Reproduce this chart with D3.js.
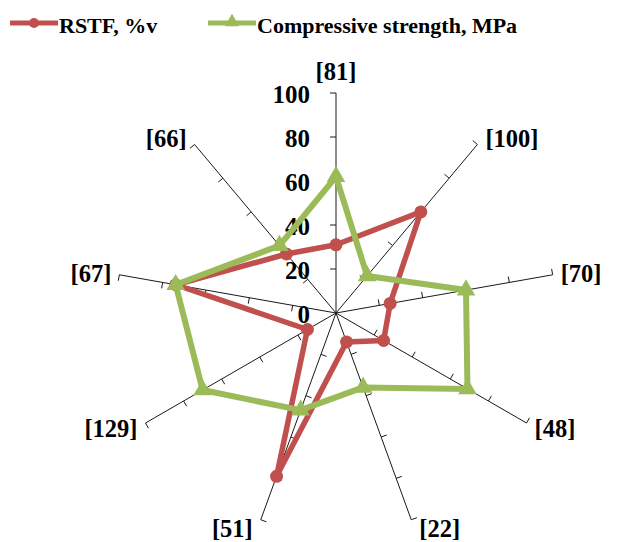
<!DOCTYPE html>
<html>
<head>
<meta charset="utf-8">
<script src="https://cdn.jsdelivr.net/npm/d3@7/dist/d3.min.js"></script>
<style>
  html, body { margin: 0; padding: 0; background: #fff; }
  svg text { font-family: "Liberation Serif", "Times New Roman", serif; font-weight: bold; fill: #000; }
</style>
</head>
<body>
<svg id="chart" width="626" height="542"></svg>
<script>
// ---- data ----
const categories = ["[81]", "[100]", "[70]", "[48]", "[22]", "[51]", "[129]", "[67]", "[66]"];
const rstf = [31, 60, 25, 25, 14, 79, 15, 74, 35];
const compressive = [62, 22, 60, 69, 36, 47, 70, 74, 40];
const tickValues = [0, 20, 40, 60, 80, 100];
const seriesNames = ["RSTF, %v", "Compressive strength, MPa"];
const seriesColors = ["#C0504D", "#9BBB59"];

// ---- layout ----
const cx = 336, cy = 313, R = 220;
const svg = d3.select("#chart");
const r = d3.scaleLinear().domain([0, 100]).range([0, R]);
const angle = d3.scalePoint().domain(categories).range([0, 360 * (categories.length - 1) / categories.length]);
const rad = d => angle(d) * Math.PI / 180;
const pt = (cat, v) => [cx + Math.sin(rad(cat)) * r(v), cy - Math.cos(rad(cat)) * r(v)];

const g = svg.append("g");

// spokes + ticks
categories.forEach(c => {
  const a = rad(c);
  const [ex, ey] = pt(c, 100);
  g.append("line").attr("x1", cx).attr("y1", cy).attr("x2", ex).attr("y2", ey)
    .attr("stroke", "#1a1a1a").attr("stroke-width", 1);
  const px = -Math.cos(a), py = -Math.sin(a);
  tickValues.filter(t => t > 0).forEach(t => {
    const [tx, ty] = pt(c, t);
    g.append("line").attr("x1", tx).attr("y1", ty).attr("x2", tx + px * 6).attr("y2", ty + py * 6)
      .attr("stroke", "#1a1a1a").attr("stroke-width", 1);
  });
  // category label
  const s = Math.sin(a), co = Math.cos(a);
  let anchor = "middle", lx = ex, ly;
  if (Math.abs(s) < 0.1) { ly = ey - 13; }
  else {
    anchor = s > 0 ? "start" : "end";
    lx = ex + (s > 0 ? 8 : -8);
    ly = ey + 9 - 9 * co;
  }
  g.append("text").attr("x", lx).attr("y", ly).attr("text-anchor", anchor)
    .attr("font-size", 24.5).text(c);
});

// tick labels on first spoke
tickValues.forEach(t => {
  const [, ty] = pt(categories[0], t);
  g.append("text").attr("x", cx - 26).attr("y", ty + 10).attr("text-anchor", "end")
    .attr("font-size", 25).text(t);
});

// series
const line = d3.line().curve(d3.curveLinearClosed);
const seriesData = [rstf, compressive];
seriesData.forEach((vals, i) => {
  const pts = categories.map((c, k) => pt(c, vals[k]));
  g.append("path").attr("d", line(pts)).attr("fill", "none")
    .attr("stroke", seriesColors[i]).attr("stroke-width", i === 0 ? 5.5 : 6)
    .attr("stroke-linejoin", "round");
  if (i === 0) {
    g.selectAll(null).data(pts).enter().append("circle")
      .attr("cx", d => d[0]).attr("cy", d => d[1]).attr("r", 6.5)
      .attr("fill", seriesColors[i]);
  } else {
    g.selectAll(null).data(pts).enter().append("path")
      .attr("d", d3.symbol(d3.symbolTriangle, 150))
      .attr("transform", d => `translate(${d[0]},${d[1]})`)
      .attr("fill", seriesColors[i]);
  }
});

// legend
const legendX = [10, 208];
seriesNames.forEach((name, i) => {
  const lg = svg.append("g").attr("transform", `translate(${legendX[i]},23)`);
  lg.append("line").attr("x1", 0).attr("x2", 48).attr("y1", 0).attr("y2", 0)
    .attr("stroke", seriesColors[i]).attr("stroke-width", 5);
  if (i === 0) lg.append("circle").attr("cx", 24).attr("cy", 0).attr("r", 5).attr("fill", seriesColors[i]);
  else lg.append("path").attr("d", d3.symbol(d3.symbolTriangle, 90)).attr("transform", "translate(24,-1)").attr("fill", seriesColors[i]);
  lg.append("text").attr("x", 49).attr("y", 10).attr("font-size", 22).text(name);
});
</script>
</body>
</html>
